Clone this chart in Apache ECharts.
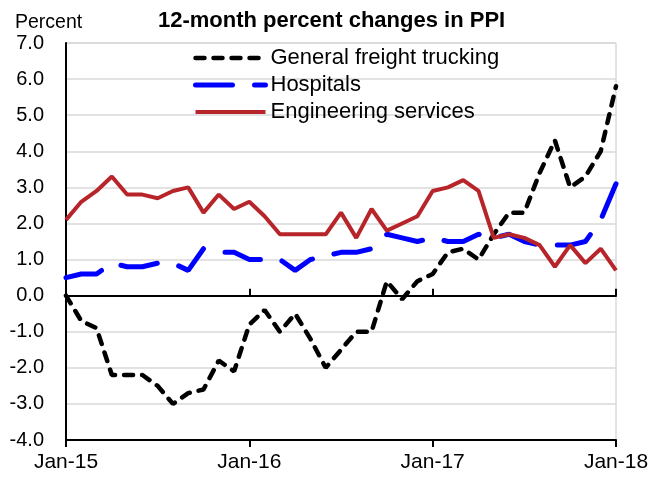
<!DOCTYPE html>
<html>
<head>
<meta charset="utf-8">
<script src="https://cdn.jsdelivr.net/npm/echarts@6/dist/echarts.min.js"></script>
<style>
  html, body { margin: 0; padding: 0; background: #fff; }
  #chart { width: 661px; height: 480px; }
</style>
</head>
<body>
<div id="chart"></div>
<script>
// monthly, Jan-15 .. Jan-18
var months = [
  'Jan-15','Feb-15','Mar-15','Apr-15','May-15','Jun-15','Jul-15','Aug-15','Sep-15','Oct-15','Nov-15','Dec-15',
  'Jan-16','Feb-16','Mar-16','Apr-16','May-16','Jun-16','Jul-16','Aug-16','Sep-16','Oct-16','Nov-16','Dec-16',
  'Jan-17','Feb-17','Mar-17','Apr-17','May-17','Jun-17','Jul-17','Aug-17','Sep-17','Oct-17','Nov-17','Dec-17',
  'Jan-18'
];

var freight = [0.0, -0.7, -0.9, -2.2, -2.2, -2.2, -2.5, -3.0, -2.7, -2.6, -1.8, -2.1,
  -0.8, -0.4, -1.0, -0.5, -1.2, -2.0, -1.5, -1.0, -1.0, 0.4, -0.1, 0.4,
  0.6, 1.2, 1.3, 1.0, 1.7, 2.3, 2.3, 3.4, 4.3, 3.0, 3.3, 4.0, 5.8];

var hospitals = [0.5, 0.6, 0.6, 0.9, 0.8, 0.8, 0.9, 0.9, 0.7, 1.3, 1.2, 1.2,
  1.0, 1.0, 1.0, 0.7, 1.0, 1.1, 1.2, 1.2, 1.3, 1.7, 1.6, 1.5,
  1.6, 1.5, 1.5, 1.7, 1.6, 1.7, 1.5, 1.4, 1.4, 1.4, 1.5, 2.1, 3.1];

var engineering = [2.1, 2.6, 2.9, 3.3, 2.8, 2.8, 2.7, 2.9, 3.0, 2.3, 2.8, 2.4,
  2.6, 2.2, 1.7, 1.7, 1.7, 1.7, 2.3, 1.6, 2.4, 1.8, 2.0, 2.2,
  2.9, 3.0, 3.2, 2.9, 1.6, 1.7, 1.6, 1.4, 0.8, 1.4, 0.9, 1.3, 0.7];

var seriesNames = ['General freight trucking', 'Hospitals', 'Engineering services'];

var font = 'Liberation Sans, Arial, sans-serif';
var freightStyle = { color: '#000', width: 4.5, type: [9, 9], cap: 'round' };
var hospStyle = { color: '#0000ff', width: 5, type: [37, 22], cap: 'round' };
var engStyle = { color: '#b7242a', width: 4 };

var chart = echarts.init(document.getElementById('chart'));

var option = {
  animation: false,
  textStyle: { fontFamily: font },
  title: [
    { text: '12-month percent changes in PPI', left: 153, top: 5,
      textStyle: { fontSize: 22, fontWeight: 'bold', color: '#000', fontFamily: font } },
    { text: 'Percent', left: 10, top: 8,
      textStyle: { fontSize: 19.5, fontWeight: 'normal', color: '#000', fontFamily: font } }
  ],
  legend: {
    orient: 'vertical',
    left: 188, top: 42,
    itemWidth: 70, itemHeight: 14, itemGap: 5,
    itemStyle: { opacity: 0 },
    textStyle: { fontSize: 22, color: '#000', fontFamily: font },
    data: [
      { name: seriesNames[0], lineStyle: freightStyle },
      { name: seriesNames[1], lineStyle: hospStyle },
      { name: seriesNames[2], lineStyle: engStyle }
    ]
  },
  grid: { left: 66, right: 45, top: 43, bottom: 40, show: true, borderColor: '#c8c8c8', borderWidth: 1 },
  xAxis: [
    { // labels at the bottom
      type: 'category', data: months, boundaryGap: false, position: 'bottom',
      axisLine: { show: false, onZero: false },
      axisTick: { show: false },
      axisLabel: { interval: 11, fontSize: 21, color: '#000', margin: 12 },
      splitLine: { show: false }
    },
    { // zero line, ticks upward
      type: 'category', data: months, boundaryGap: false, position: 'top',
      axisLine: { onZero: true, lineStyle: { color: '#000', width: 2 } },
      axisTick: { interval: 11, length: 7, lineStyle: { color: '#000', width: 2 } },
      axisLabel: { show: false },
      splitLine: { show: false }
    },
    { // ticks downward
      type: 'category', data: months, boundaryGap: false, position: 'bottom',
      axisLine: { onZero: true, lineStyle: { color: '#000', width: 2 } },
      axisTick: { interval: 11, length: 7, lineStyle: { color: '#000', width: 2 } },
      axisLabel: { show: false },
      splitLine: { show: false }
    }
  ],
  yAxis: {
    type: 'value', min: -4, max: 7, interval: 1,
    axisLine: { show: true, onZero: false, lineStyle: { color: '#000', width: 2 } },
    axisTick: { show: false },
    axisLabel: { fontSize: 20, color: '#000', margin: 22, formatter: function (v) { return v.toFixed(1); } },
    splitLine: { lineStyle: { color: '#d9d9d9', width: 1.5 } }
  },
  series: [
    { name: seriesNames[0], type: 'line', data: freight, symbol: 'none',
      lineStyle: freightStyle, itemStyle: { color: '#000' } },
    { name: seriesNames[1], type: 'line', data: hospitals, symbol: 'none',
      lineStyle: hospStyle, itemStyle: { color: '#0000ff' } },
    { name: seriesNames[2], type: 'line', data: engineering, symbol: 'none',
      lineStyle: engStyle, itemStyle: { color: '#b7242a' } }
  ]
};

chart.setOption(option);
</script>
</body>
</html>
